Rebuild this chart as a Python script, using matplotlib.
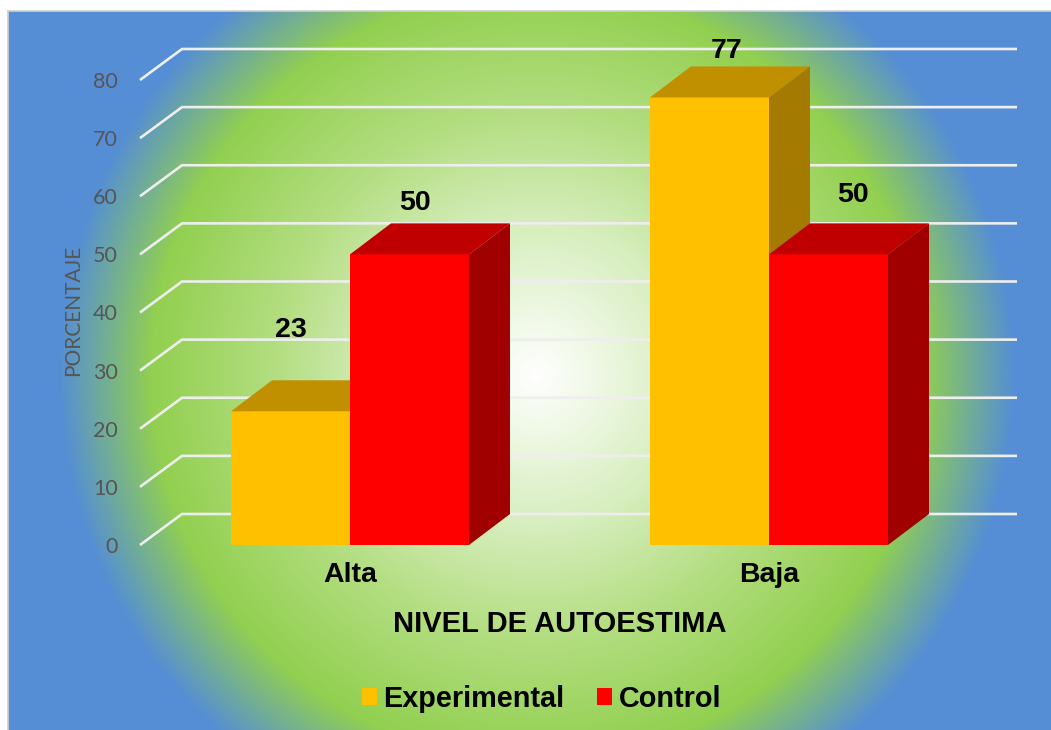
import numpy as np
import matplotlib
matplotlib.use("Agg")
import matplotlib.pyplot as plt
from matplotlib.patches import Polygon, Patch
from matplotlib.lines import Line2D

# ---- data ----
categories = ["Alta", "Baja"]
series_names = ["Experimental", "Control"]
experimental = [23, 77]
control = [50, 50]
y_ticks = [0, 10, 20, 30, 40, 50, 60, 70, 80]
x_title = "NIVEL DE AUTOESTIMA"
y_title = "PORCENTAJE"

# ---- style ----
W, H, DPI = 1051, 730, 100
PT = 72.0 / DPI  # points per pixel
face_colors = {
    "Experimental": ("#FFC000", "#C09000", "#A47B00"),  # front, top, side
    "Control": ("#FF0000", "#C00000", "#A00000"),
}
# label offsets (pixels) from the centre of each bar's front top edge
label_offsets = {
    ("Experimental", 0): (0, 74), ("Control", 0): (5, 44),
    ("Experimental", 1): (17, 39), ("Control", 1): (24, 52),
}
BOLD = dict(family="Liberation Sans", weight="bold", color="black")
GRAY = dict(family="Lato", color="#555555")

fig = plt.figure(figsize=(W / DPI, H / DPI), dpi=DPI)
fig.patch.set_facecolor("white")

# plot-area background: circular gradient white -> green -> blue
left_px, top_px = 8, 11
bw, bh = W - left_px, H - top_px
bg = fig.add_axes([left_px / W, 0, bw / W, bh / H])
bg.set_axis_off()
yy, xx = np.mgrid[0:bh, 0:bw]
cx, cy = 537 - left_px, 375 - top_px
dist = np.hypot(xx + 0.5 - cx, yy + 0.5 - cy)
stop_d = [0, 150, 260, 385, 478]
stop_c = np.array([[255, 255, 255], [215, 238, 190], [180, 222, 130],
                   [146, 208, 80], [85, 142, 213]]) / 255.0
img = np.stack([np.interp(dist, stop_d, stop_c[:, k]) for k in range(3)], axis=-1)
bg.imshow(img, extent=(0, bw, bh, 0), aspect="auto", interpolation="bilinear")
bg.set_xlim(0, bw)
bg.set_ylim(bh, 0)
fig.add_artist(Line2D([left_px / W, left_px / W], [0, 1 - top_px / H],
                      color="#D0D0D0", lw=1.2))
fig.add_artist(Line2D([left_px / W, 1], [1 - top_px / H, 1 - top_px / H],
                      color="#D0D0D0", lw=1.2))

# main axes: category spacing 419 px, 5.8125 px per percentage point
ax_l, ax_r, ax_b, ax_t = 140, 1017, 545, 48
ax = fig.add_axes([ax_l / W, 1 - ax_b / H, (ax_r - ax_l) / W, (ax_b - ax_t) / H])
ax.patch.set_alpha(0)
xpx, ypx = 419.0, 5.8125
x_lo = (ax_l - 350) / xpx
x_hi = (ax_r - 350) / xpx
ax.set_xlim(x_lo, x_hi)
ax.set_ylim(0, (ax_b - ax_t) / ypx)
for sp in ax.spines.values():
    sp.set_visible(False)

ddx = 42 / xpx          # depth offset of the 3-D floor/walls
ddy = 31 / ypx
bar_w = 119 / xpx

# gridlines (front bend + back wall)
for v in y_ticks:
    ax.plot([x_lo, x_lo + ddx, x_hi], [v, v + ddy, v + ddy],
            color="#EEEEEE", lw=1.9, zorder=1, solid_capstyle="butt",
            clip_on=False)

ax.set_yticks(y_ticks)
ax.set_yticklabels([str(t) for t in y_ticks], fontsize=15.5, **GRAY)
ax.tick_params(axis="y", length=0, pad=22 * PT)
ax.set_xticks(range(len(categories)))
ax.set_xticklabels(categories, fontsize=20.5, **BOLD)
ax.tick_params(axis="x", length=0, pad=17 * PT)

fig.text(73 / W, 1 - 310 / H, y_title, rotation=90, ha="center", va="center",
         fontsize=15, **GRAY)
fig.text(560 / W, 1 - 632 / H, x_title, ha="center", va="baseline",
         fontsize=21, **BOLD)

# 3-D bars
bdx = 41 / xpx
for s, (name, vals) in enumerate(zip(series_names, [experimental, control])):
    front, top, side = face_colors[name]
    for i, v in enumerate(vals):
        x0 = i - bar_w + s * bar_w
        x1 = x0 + bar_w
        ax.add_patch(Polygon([(x0, 0), (x1, 0), (x1, v), (x0, v)],
                             closed=True, facecolor=front, lw=0, zorder=3))
        ax.add_patch(Polygon([(x0, v), (x0 + bdx, v + ddy), (x1 + bdx, v + ddy), (x1, v)],
                             closed=True, facecolor=top, lw=0, zorder=3))
        ax.add_patch(Polygon([(x1, 0), (x1 + bdx, ddy), (x1 + bdx, v + ddy), (x1, v)],
                             closed=True, facecolor=side, lw=0, zorder=3))
        ox, oy = label_offsets[(name, i)]
        ax.annotate(str(v), xy=((x0 + x1) / 2, v), xytext=(ox * PT, oy * PT),
                    textcoords="offset points", ha="center", va="baseline",
                    fontsize=20.5, zorder=5, annotation_clip=False, **BOLD)

handles = [Patch(facecolor=face_colors[n][0], edgecolor="none", label=n)
           for n in series_names]
leg = fig.legend(handles=handles, loc="center", ncol=2,
                 bbox_to_anchor=(541.5 / W, 1 - 699 / H), frameon=False,
                 borderpad=0, handlelength=0.53, handleheight=0.53,
                 handletextpad=0.22, columnspacing=1.12,
                 prop=dict(family="Liberation Sans", weight="bold", size=20.8))

fig.savefig("out.png", dpi=DPI)
